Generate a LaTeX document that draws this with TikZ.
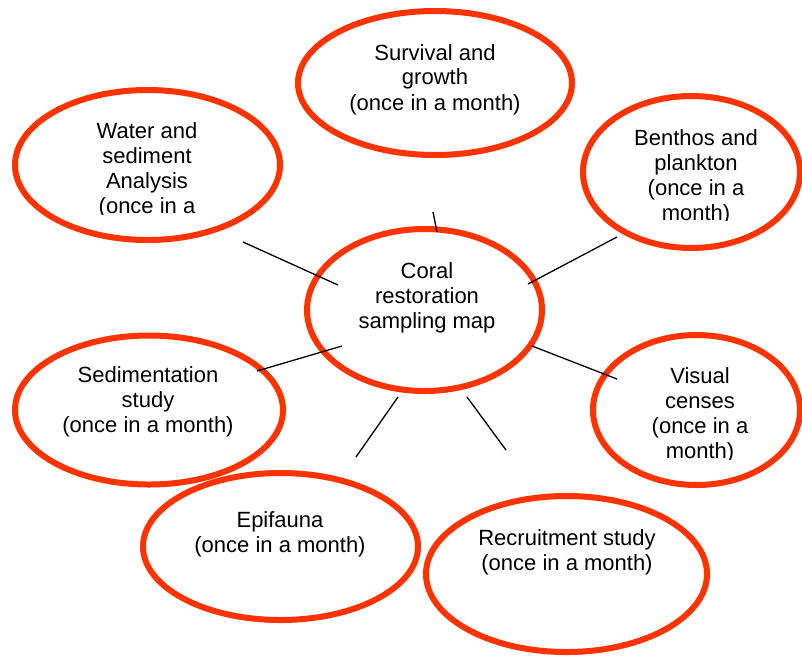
\documentclass[tikz,border=0pt]{standalone}
\usepackage{fontspec}
\setmainfont{Liberation Sans}
\usetikzlibrary{shapes.geometric}
\definecolor{ringred}{HTML}{FF3300}
\tikzset{ring node/.style={ellipse,draw=ringred,line width=6pt,inner sep=0pt},
label node/.style={align=center,inner sep=0pt,font=\fontsize{22}{25}\selectfont}}

\begin{document}
\begin{tikzpicture}[x=1pt,y=-1pt,spoke/.style={draw=black,line width=1.3pt}]
\useasboundingbox (0,0) rectangle (802,657);

%DRAWING the rings
 \node[ring node,minimum width=274pt,minimum height=144pt] (Survival) at (435,83) {};
 \node[ring node,minimum width=265pt,minimum height=150pt] (Water) at (147.5,165) {};
 \node[ring node,minimum width=217pt,minimum height=152pt] (Benthos) at (691.5,172) {};
 \node[ring node,minimum width=235pt,minimum height=162pt] (Coral) at (424.5,310) {};
 \node[ring node,minimum width=268pt,minimum height=149pt] (Sediment) at (149,410) {};
 \node[ring node,minimum width=207pt,minimum height=150pt] (Visual) at (696.5,410) {};
 \node[ring node,minimum width=275pt,minimum height=147pt] (Epifauna) at (280.5,546.5) {};
 \node[ring node,minimum width=281pt,minimum height=156pt] (Recruit) at (566.5,574) {};

%Inserting the labels
 \node[label node] (SurvivalText) at (435,79.3) {Survival and\\growth\\(once in a month)};
 \begin{scope}
  \clip (0,0) rectangle (802,214);
  \node[label node] (WaterText) at (147,170) {Water and\\sediment\\Analysis\\(once in a};
 \end{scope}
 \begin{scope}
  \clip (0,0) rectangle (802,220);
  \node[label node] (BenthosText) at (696,177) {Benthos and\\plankton\\(once in a\\month)};
 \end{scope}
 \node[label node] (CoralText) at (427,298) {Coral\\restoration\\sampling map};
 \node[label node] (SedimentText) at (148,402) {Sedimentation\\study\\(once in a month)};
 \begin{scope}
  \clip (0,0) rectangle (802,459);
  \node[label node] (VisualText) at (700,415) {Visual\\censes\\(once in a\\month)};
 \end{scope}
 \node[label node] (EpifaunaText) at (280,534) {Epifauna\\(once in a month)};
 \node[label node] (RecruitText) at (567,552) {Recruitment study\\(once in a month)};

%Spokes from the centre
 \coordinate (SpokeTopA) at (433,212);
 \coordinate (SpokeTopB) at (437,232);
 \coordinate (SpokeWaterA) at (243,242);
 \coordinate (SpokeWaterB) at (338,285);
 \coordinate (SpokeBenthosA) at (617,237);
 \coordinate (SpokeBenthosB) at (528,284);
 \coordinate (SpokeSedimentA) at (257,371);
 \coordinate (SpokeSedimentB) at (342,346);
 \coordinate (SpokeVisualA) at (617,379);
 \coordinate (SpokeVisualB) at (532,346);
 \coordinate (SpokeEpifaunaA) at (356,457);
 \coordinate (SpokeEpifaunaB) at (398,397);
 \coordinate (SpokeRecruitA) at (506,450);
 \coordinate (SpokeRecruitB) at (467,397);

 \draw[spoke] (SpokeTopA)--(SpokeTopB);
 \draw[spoke] (SpokeWaterA)--(SpokeWaterB);
 \draw[spoke] (SpokeBenthosA)--(SpokeBenthosB);
 \draw[spoke] (SpokeSedimentA)--(SpokeSedimentB);
 \draw[spoke] (SpokeVisualA)--(SpokeVisualB);
 \draw[spoke] (SpokeEpifaunaA)--(SpokeEpifaunaB);
 \draw[spoke] (SpokeRecruitA)--(SpokeRecruitB);

\end{tikzpicture}
\end{document}
